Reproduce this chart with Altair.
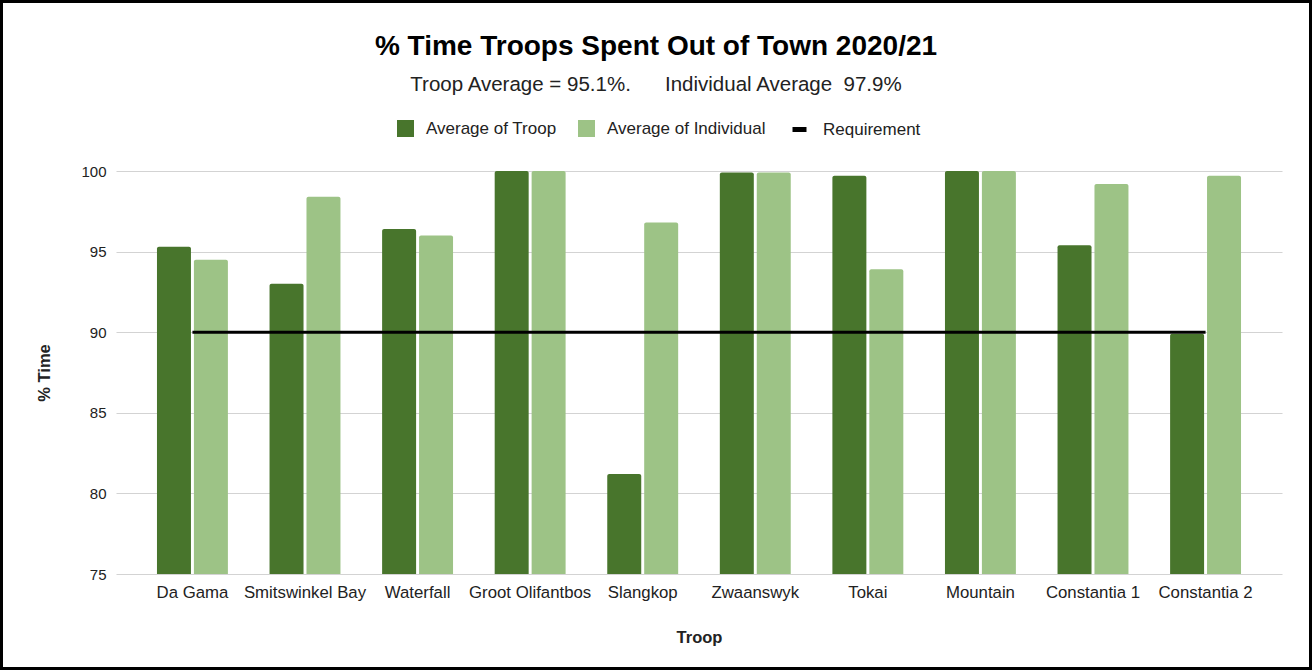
import altair as alt
import pandas as pd

# ---- data ----
troops = ["Da Gama", "Smitswinkel Bay", "Waterfall", "Groot Olifantbos", "Slangkop",
          "Zwaanswyk", "Tokai", "Mountain", "Constantia 1", "Constantia 2"]
troop_avg = [95.3, 93.0, 96.4, 100.0, 81.2, 99.9, 99.7, 100.0, 95.4, 89.9]
indiv_avg = [94.5, 98.4, 96.0, 100.0, 96.8, 99.9, 93.9, 100.0, 99.2, 99.7]
requirement = [90, 90, 90, 90, 90, 90, 90, 90, 90, 90]
series_names = ["Average of Troop", "Average of Individual"]
line_name = "Requirement"
bar_colors = ["#48752c", "#9dc386"]
y_ticks = [75, 80, 85, 90, 95, 100]

title_text = "% Time Troops Spent Out of Town 2020/21"
subtitle_text = ("Troop Average = 95.1%." + "\u00a0" * 6 + "Individual Average"
                 + "\u00a0" * 2 + "97.9%")

FONT = "Liberation Sans"

rows = []
for t, a, b in zip(troops, troop_avg, indiv_avg):
    rows.append({"troop": t, "series": series_names[0], "value": a})
    rows.append({"troop": t, "series": series_names[1], "value": b})
bars_df = pd.DataFrame(rows)
line_df = pd.DataFrame({"troop": troops, "value": requirement, "series": [line_name] * len(troops)})
frame_df = pd.DataFrame({"k": [0]})

W, H = 1166, 403
PAD = {"left": 116, "top": 171, "right": 30, "bottom": 96}

x_enc = alt.X(
    "troop:N", sort=troops, title="Troop",
    scale=alt.Scale(paddingInner=0.37, paddingOuter=0.364),
    axis=alt.Axis(labelAngle=0, labelFontSize=16.8, labelFont=FONT, labelColor="#222222",
                  labelPadding=10, ticks=False, tickSize=0, domain=False, grid=False,
                  titleFontSize=16.5, titleFont=FONT, titleFontWeight="bold",
                  titleColor="#222222", titlePadding=29),
)
y_enc = alt.Y(
    "value:Q", title="% Time",
    scale=alt.Scale(domain=[75, 100], nice=False, zero=False),
    axis=alt.Axis(values=y_ticks, labelFontSize=15, labelFont=FONT, labelColor="#222222",
                  labelPadding=10, ticks=False, tickSize=0, domain=False,
                  grid=True, gridColor="#d3d3d3", gridWidth=1,
                  titleFontSize=16.5, titleFont=FONT, titleFontWeight="bold",
                  titleColor="#222222", titlePadding=28),
)

bars = alt.Chart(bars_df).mark_bar(cornerRadiusTopLeft=2, cornerRadiusTopRight=2).encode(
    x=x_enc,
    xOffset=alt.XOffset("series:N", sort=series_names,
                        scale=alt.Scale(paddingInner=0.08, paddingOuter=0)),
    y=y_enc,
    y2=alt.Y2(datum=75),
    color=alt.Color(
        "series:N",
        scale=alt.Scale(domain=series_names, range=bar_colors),
        legend=alt.Legend(orient="none", legendX=281, legendY=-51, direction="horizontal",
                          title=None, symbolType="square", symbolSize=289,
                          symbolStrokeWidth=0, labelFontSize=17, labelFont=FONT,
                          labelColor="#222222", columnPadding=21, labelOffset=12, padding=0),
    ),
)

line = alt.Chart(line_df).mark_line(strokeWidth=3, strokeCap="butt").encode(
    x=alt.X("troop:N", sort=troops),
    y=alt.Y("value:Q"),
    stroke=alt.Stroke(
        "series:N",
        scale=alt.Scale(domain=[line_name], range=["#000000"]),
        legend=alt.Legend(orient="none", legendX=674, legendY=-51, direction="horizontal",
                          title=None, symbolType="stroke", symbolSize=196,
                          symbolStrokeWidth=5, labelFontSize=17, labelFont=FONT,
                          labelColor="#222222", labelOffset=14, padding=0),
    ),
)

frame = alt.Chart(frame_df).mark_rect(fillOpacity=0, stroke="#000000", strokeWidth=3).encode(
    x=alt.value(-PAD["left"] + 1.5),
    x2=alt.value(W + PAD["right"] - 1.5),
    y=alt.value(-PAD["top"] + 1.5),
    y2=alt.value(H + PAD["bottom"] - 1.5),
)

chart = alt.layer(bars, line, frame).properties(
    width=W, height=H,
    padding=PAD,
    autosize="none",
    background="white",
    title=alt.TitleParams(
        text=title_text, subtitle=subtitle_text,
        font=FONT, fontSize=28, fontWeight="bold", color="#000000",
        subtitleFont=FONT, subtitleFontSize=20.5, subtitleColor="#222222",
        subtitlePadding=14,
        anchor="middle", frame="group", dx=-43, offset=-95,
    ),
).configure_view(stroke=None)

chart.save("out.html", embed_options={"renderer": "svg", "actions": False})
